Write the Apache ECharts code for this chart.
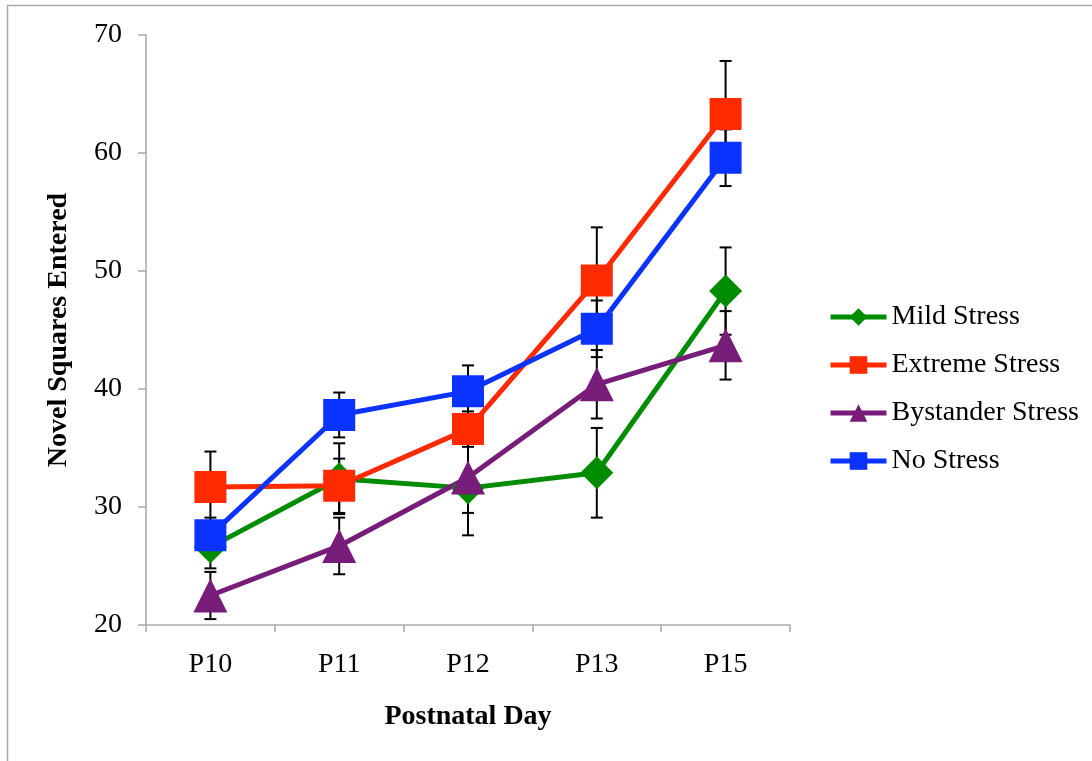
<!DOCTYPE html>
<html>
<head>
<meta charset="utf-8">
<script src="https://cdn.jsdelivr.net/npm/echarts@6/dist/echarts.min.js"></script>
<style>
  html, body { margin: 0; padding: 0; background: #ffffff; }
  #chart { width: 1092px; height: 761px; }
</style>
</head>
<body>
<div id="chart"></div>
<script>
// Postnatal days on the x axis
const categories = ['P10', 'P11', 'P12', 'P13', 'P15'];
const yTicks = [20, 30, 40, 50, 60, 70];

// Group means and error-bar half-widths
const mildMean = [26.6, 32.4, 31.6, 32.9, 48.3];
const mildErr = [1.8, 3.0, 4.0, 3.8, 3.7];
const extremeMean = [31.7, 31.8, 36.6, 49.2, 63.3];
const extremeErr = [3.0, 2.3, 1.5, 4.5, 4.5];
const bystanderMean = [22.5, 26.7, 32.5, 40.4, 43.7];
const bystanderErr = [2.0, 2.4, 3.0, 2.9, 2.9];
const noMean = [27.6, 37.8, 39.8, 45.1, 59.6];
const noErr = [1.5, 1.9, 2.2, 2.4, 2.4];

const groups = [
  { name: 'Mild Stress', mean: mildMean, err: mildErr, color: '#008C00', symbol: 'diamond', size: 33 },
  { name: 'Extreme Stress', mean: extremeMean, err: extremeErr, color: '#FF2A00', symbol: 'rect', size: 32 },
  { name: 'Bystander Stress', mean: bystanderMean, err: bystanderErr, color: '#771C78', symbol: 'triangle', size: 34 },
  { name: 'No Stress', mean: noMean, err: noErr, color: '#0A33FF', symbol: 'rect', size: 32 }
];

const FONT = '"Liberation Serif", "Times New Roman", serif';
const AXIS_COLOR = '#a8a8a8';

// Vertical error bar with caps
function renderErrorBar(params, api) {
  const idx = api.value(0);
  const lo = api.coord([idx, api.value(1)]);
  const hi = api.coord([idx, api.value(2)]);
  const half = 6;
  const style = { stroke: '#000000', lineWidth: 2 };
  return {
    type: 'group',
    children: [
      { type: 'line', shape: { x1: lo[0], y1: lo[1], x2: hi[0], y2: hi[1] }, style: style },
      { type: 'line', shape: { x1: lo[0] - half, y1: lo[1], x2: lo[0] + half, y2: lo[1] }, style: style },
      { type: 'line', shape: { x1: hi[0] - half, y1: hi[1], x2: hi[0] + half, y2: hi[1] }, style: style }
    ]
  };
}

const errorSeries = groups.map(g => ({
  type: 'custom',
  name: g.name + ' error',
  renderItem: renderErrorBar,
  encode: { x: 0, y: [1, 2] },
  data: g.mean.map((m, i) => [i, +(m - g.err[i]).toFixed(2), +(m + g.err[i]).toFixed(2)]),
  z: 1,
  silent: true
}));

const lineSeries = groups.map(g => ({
  type: 'line',
  name: g.name,
  data: g.mean,
  symbol: g.symbol,
  symbolSize: g.size,
  showAllSymbol: true,
  color: g.color,
  lineStyle: { color: g.color, width: 5 },
  itemStyle: { color: g.color },
  z: 2
}));

const chart = echarts.init(document.getElementById('chart'), null, { renderer: 'canvas' });
chart.setOption({
  animation: false,
  backgroundColor: '#ffffff',
  graphic: [{
    type: 'rect',
    shape: { x: 7.5, y: 5.5, width: 1200, height: 900 },
    style: { fill: 'none', stroke: AXIS_COLOR, lineWidth: 1.5 },
    silent: true,
    z: -10
  }],
  grid: { left: 146, right: 302, top: 35, bottom: 136 },
  legend: {
    data: groups.map(g => g.name),
    orient: 'vertical',
    left: 828,
    top: 303,
    padding: 0,
    itemWidth: 56,
    itemHeight: 22,
    itemGap: 20,
    lineStyle: { width: 5 },
    textStyle: { fontFamily: FONT, fontSize: 28, color: '#000000' },
    selectedMode: false
  },
  xAxis: {
    type: 'category',
    data: categories,
    boundaryGap: true,
    name: 'Postnatal Day',
    nameLocation: 'middle',
    nameGap: 78,
    nameTextStyle: { fontFamily: FONT, fontSize: 28, fontWeight: 'bold', color: '#000000' },
    axisLine: { lineStyle: { color: AXIS_COLOR, width: 1.5 } },
    axisTick: { show: true, alignWithLabel: false, length: 7, lineStyle: { color: AXIS_COLOR, width: 1.5 } },
    axisLabel: { fontFamily: FONT, fontSize: 28, color: '#000000', margin: 26 },
    splitLine: { show: false }
  },
  yAxis: {
    type: 'value',
    min: yTicks[0],
    max: yTicks[yTicks.length - 1],
    interval: 10,
    name: 'Novel Squares Entered',
    nameLocation: 'middle',
    nameGap: 73,
    nameTextStyle: { fontFamily: FONT, fontSize: 28, fontWeight: 'bold', color: '#000000' },
    axisLine: { show: true, lineStyle: { color: AXIS_COLOR, width: 1.5 } },
    axisTick: { show: true, length: 8, lineStyle: { color: AXIS_COLOR, width: 1.5 } },
    axisLabel: { fontFamily: FONT, fontSize: 28, color: '#000000', margin: 24 },
    splitLine: { show: false }
  },
  series: errorSeries.concat(lineSeries)
});
</script>
</body>
</html>
